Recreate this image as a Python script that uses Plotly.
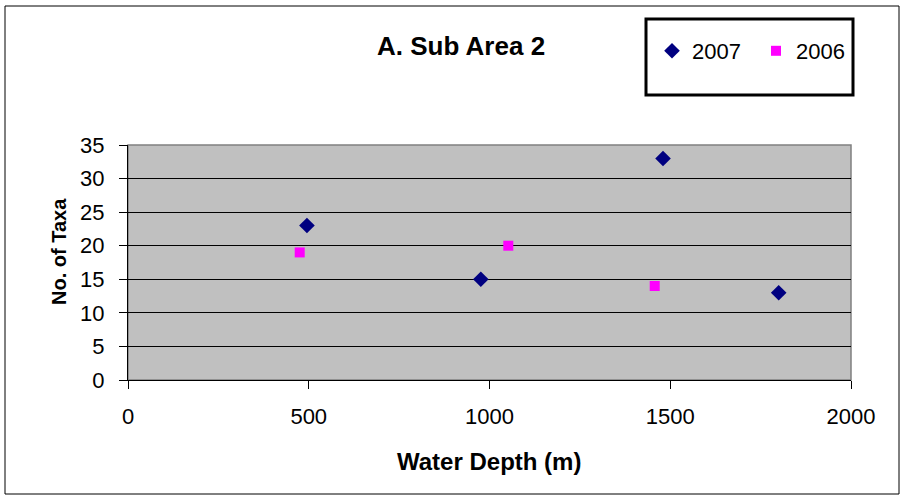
import plotly.graph_objects as go

depth_2007 = [495, 976, 1480, 1800]
taxa_2007 = [23, 15, 33, 13]
depth_2006 = [475, 1052, 1457]
taxa_2006 = [19, 20, 14]

W, H = 904, 497
L, R, T, B = 128, 53, 145, 117
pw, ph = W - L - R, H - T - B

def px(x):
    return (x - L) / pw

def py(y):
    return (H - B - y) / ph

font = "Liberation Sans, Arial, sans-serif"

fig = go.Figure()
fig.add_trace(go.Scatter(x=depth_2007, y=taxa_2007, mode="markers", name="2007",
                         marker=dict(symbol="diamond", color="#000080", size=12)))
fig.add_trace(go.Scatter(x=depth_2006, y=taxa_2006, mode="markers", name="2006",
                         marker=dict(symbol="square", color="#FF00FF", size=10)))

fig.update_layout(
    width=W, height=H,
    margin=dict(l=L, r=R, t=T, b=B),
    paper_bgcolor="white", plot_bgcolor="#C0C0C0",
    font=dict(family=font, size=22, color="black"),
    showlegend=True,
    legend=dict(orientation="h", x=px(652), y=py(51), xanchor="left", yanchor="middle",
                font=dict(size=22), bgcolor="rgba(0,0,0,0)", itemwidth=30,
                entrywidth=59, traceorder="normal"),
    annotations=[
        dict(text="<b>A. Sub Area 2</b>", x=px(461), y=py(46), xref="paper", yref="paper",
             showarrow=False, font=dict(size=26), xanchor="center", yanchor="middle"),
        dict(text="<b>Water Depth (m)</b>", x=px(489), y=py(461), xref="paper", yref="paper",
             showarrow=False, font=dict(size=24), xanchor="center", yanchor="middle"),
        dict(text="<b>No. of Taxa</b>", x=px(59), y=py(252), xref="paper", yref="paper",
             showarrow=False, font=dict(size=20), textangle=-90, xanchor="center", yanchor="middle"),
    ],
    shapes=[
        dict(type="rect", xref="paper", yref="paper", x0=px(5), x1=px(899), y0=py(6), y1=py(494),
             line=dict(color="black", width=1)),
        dict(type="rect", xref="paper", yref="paper", x0=px(646), x1=px(853), y0=py(19), y1=py(95),
             line=dict(color="black", width=3)),
        dict(type="rect", xref="paper", yref="paper", x0=0, x1=1, y0=0, y1=1,
             line=dict(color="#808080", width=1.5), layer="below"),
    ],
)

fig.update_xaxes(range=[0, 2000], dtick=500, tick0=0, showgrid=False, zeroline=False,
                 showline=True, linecolor="black", linewidth=1,
                 ticks="outside", ticklen=8, tickcolor="black", tickfont=dict(size=22),
                 ticklabelstandoff=9)
fig.update_yaxes(range=[0, 35], dtick=5, tick0=0, showgrid=True, gridcolor="black", gridwidth=1,
                 zeroline=False, showline=True, linecolor="black", linewidth=1,
                 ticks="outside", ticklen=8, tickcolor="black", tickfont=dict(size=22),
                 ticklabelstandoff=10)

fig.write_html("out.html")
